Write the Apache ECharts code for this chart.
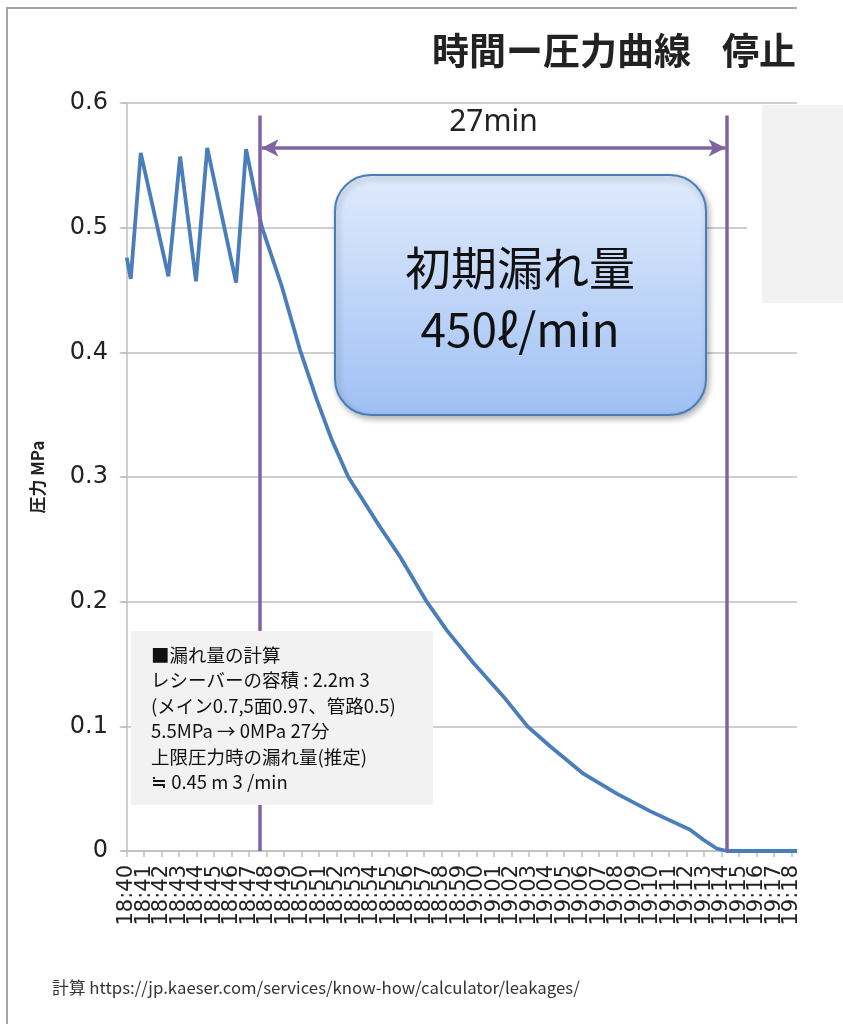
<!DOCTYPE html>
<html>
<head>
<meta charset="utf-8">
<script src="https://cdn.jsdelivr.net/npm/echarts@6/dist/echarts.min.js"></script>
<style>
  html, body { margin: 0; padding: 0; background: #fff; }
  #main { width: 843px; height: 1024px; }
</style>
</head>
<body>
<div id="main"></div>
<script>
// 横軸の目盛ラベル (18:40 からの分)
var timeLabels = ['18:40','18:41','18:42','18:43','18:44','18:45','18:46','18:47','18:48','18:49',
  '18:50','18:51','18:52','18:53','18:54','18:55','18:56','18:57','18:58','18:59',
  '19:00','19:01','19:02','19:03','19:04','19:05','19:06','19:07','19:08','19:09',
  '19:10','19:11','19:12','19:13','19:14','19:15','19:16','19:17','19:18'];

// 圧力の読み取り値 (分, MPa)
var minutes = [0, 0.23, 0.8, 2.38, 3.05, 3.96, 4.6, 6.25, 6.82, 7.71, 8.86, 9.9, 10.86, 11.71,
  12.66, 13.43, 14.47, 15.62, 17.14, 18.29, 19.8, 21.52, 22.9, 24.19, 26.09, 28.0, 29.9,
  32.19, 32.95, 33.71, 34.29, 38.3];
var pressure = [0.476, 0.459, 0.560, 0.461, 0.557, 0.457, 0.564, 0.456, 0.563, 0.501, 0.453,
  0.402, 0.362, 0.330, 0.300, 0.283, 0.260, 0.236, 0.200, 0.177, 0.151, 0.124, 0.100, 0.084,
  0.062, 0.046, 0.032, 0.017, 0.009, 0.002, 0, 0];

// 停止〜0MPa の区間 (分)
var stopStart = 7.62;
var stopEnd = 34.3;
var markTop = 0.59;
var arrowLevel = 0.564;

var chart = echarts.init(document.getElementById('main'));

var seriesData = minutes.map(function (t, i) { return [t, pressure[i]]; });
var purple = '#8064a2';

var option = {
  animation: false,
  grid: [
    { left: 122, right: 46, top: 103, bottom: 173 },
    // 目盛ラベル用 (1分 = 17.5px)
    { left: 117.95, right: 42.55, top: 103, bottom: 173 }
  ],
  xAxis: [{
    type: 'value',
    gridIndex: 0,
    min: -0.27,
    max: 38.3,
    splitLine: { show: false },
    axisLine: { show: true, lineStyle: { color: '#bfbfbf', width: 1.5 } },
    axisTick: { show: false },
    axisLabel: { show: false }
  }, {
    type: 'category',
    gridIndex: 1,
    data: timeLabels,
    boundaryGap: true,
    axisLine: { show: false },
    axisTick: { show: true, alignWithLabel: true, interval: 0, length: 6,
      lineStyle: { color: '#bfbfbf', width: 1.5 } },
    axisLabel: { interval: 0, rotate: 90, margin: 14, fontSize: 21, color: '#222',
      fontFamily: 'DejaVu Sans' }
  }],
  yAxis: [{
    type: 'value',
    gridIndex: 0,
    min: 0, max: 0.6, interval: 0.1,
    name: '圧力 MPa',
    nameLocation: 'middle',
    nameGap: 76,
    nameTextStyle: { fontSize: 17, fontWeight: 'bold', color: '#222', fontFamily: 'Noto Sans CJK JP' },
    axisLine: { show: true, lineStyle: { color: '#bfbfbf', width: 1.5 } },
    axisTick: { show: true, length: 7, lineStyle: { color: '#bfbfbf', width: 1.5 } },
    splitLine: { lineStyle: { color: '#bfbfbf', width: 1.5 } },
    axisLabel: { margin: 14, fontSize: 24, color: '#222', fontFamily: 'DejaVu Sans' }
  }, {
    type: 'value', gridIndex: 1, min: 0, max: 0.6, show: false
  }],
  series: [{
    type: 'line',
    xAxisIndex: 0,
    yAxisIndex: 0,
    data: seriesData,
    showSymbol: false,
    lineStyle: { color: '#4a7ebb', width: 3.8 },
    z: 3,
    markLine: {
      silent: true,
      symbol: 'none',
      lineStyle: { color: purple, width: 3.5, type: 'solid' },
      label: { show: false },
      data: [
        [{ coord: [stopStart, 0] }, { coord: [stopStart, markTop] }],
        [{ coord: [stopEnd, 0] }, { coord: [stopEnd, markTop] }],
        [
          { coord: [stopStart + 0.08, arrowLevel], symbol: 'arrow', symbolSize: [13, 17] },
          { coord: [stopEnd - 0.08, arrowLevel], symbol: 'arrow', symbolSize: [13, 17],
            label: { show: true, position: 'insideMiddleTop', distance: 10, formatter: '27min',
              fontSize: 30, color: '#222', fontFamily: 'Noto Sans' } }
        ]
      ]
    }
  }],
  graphic: [
    { type: 'polyline', z: 20, shape: { points: [[7, 1024], [7, 8], [797, 8]] },
      style: { stroke: '#a6a6a6', lineWidth: 2, fill: null } },
    { type: 'text', z: 20, x: 432, y: 51,
      style: { text: '時間ー圧力曲線', fontSize: 37, fontWeight: 'bold', fontFamily: 'Noto Sans CJK JP',
        fill: '#222', textVerticalAlign: 'middle' } },
    { type: 'text', z: 20, x: 796, y: 51,
      style: { text: '停止', fontSize: 37, fontWeight: 'bold', fontFamily: 'Noto Sans CJK JP',
        fill: '#222', textAlign: 'right', textVerticalAlign: 'middle' } },
    { type: 'rect', z: 20, shape: { x: 747, y: 106, width: 96, height: 200 }, style: { fill: '#fff' } },
    { type: 'rect', z: 21, shape: { x: 762, y: 105, width: 81, height: 198 }, style: { fill: '#f2f2f2' } },
    { type: 'rect', z: 20, shape: { x: 335, y: 175, width: 371, height: 240, r: 36 },
      style: {
        fill: new echarts.graphic.LinearGradient(0, 0, 0, 1, [
          { offset: 0, color: '#e0ebfc' }, { offset: 1, color: '#9fc0f4' }]),
        stroke: '#4a7ebb', lineWidth: 2,
        shadowBlur: 6, shadowOffsetX: 2, shadowOffsetY: 3, shadowColor: 'rgba(0,0,0,0.3)'
      } },
    { type: 'text', z: 21, x: 520, y: 268,
      style: { text: '初期漏れ量', fontSize: 46, fontFamily: 'Noto Sans CJK JP', fill: '#111',
        textAlign: 'center', textVerticalAlign: 'middle' } },
    { type: 'text', z: 21, x: 520, y: 330,
      style: { text: '450ℓ/min', fontSize: 46, fontFamily: 'Noto Sans CJK JP', fill: '#111',
        textAlign: 'center', textVerticalAlign: 'middle' } },
    { type: 'rect', z: 20, shape: { x: 131, y: 631, width: 302, height: 174 }, style: { fill: '#f2f2f2' } },
    { type: 'text', z: 21, x: 151, y: 642,
      style: {
        text: '■漏れ量の計算\nレシーバーの容積 : 2.2m 3\n(メイン0.7,5面0.97、管路0.5)\n5.5MPa → 0MPa 27分\n上限圧力時の漏れ量(推定)\n≒ 0.45 m 3 /min',
        fontSize: 18.5, lineHeight: 25.5, fontFamily: 'Noto Sans CJK JP', fill: '#111',
        textVerticalAlign: 'top'
      } },
    { type: 'text', z: 20, x: 52, y: 988,
      style: { text: '計算 https://jp.kaeser.com/services/know-how/calculator/leakages/',
        fontSize: 16.8, fontFamily: 'Noto Sans CJK JP', fill: '#333', textVerticalAlign: 'middle' } }
  ]
};

chart.setOption(option);
</script>
</body>
</html>
